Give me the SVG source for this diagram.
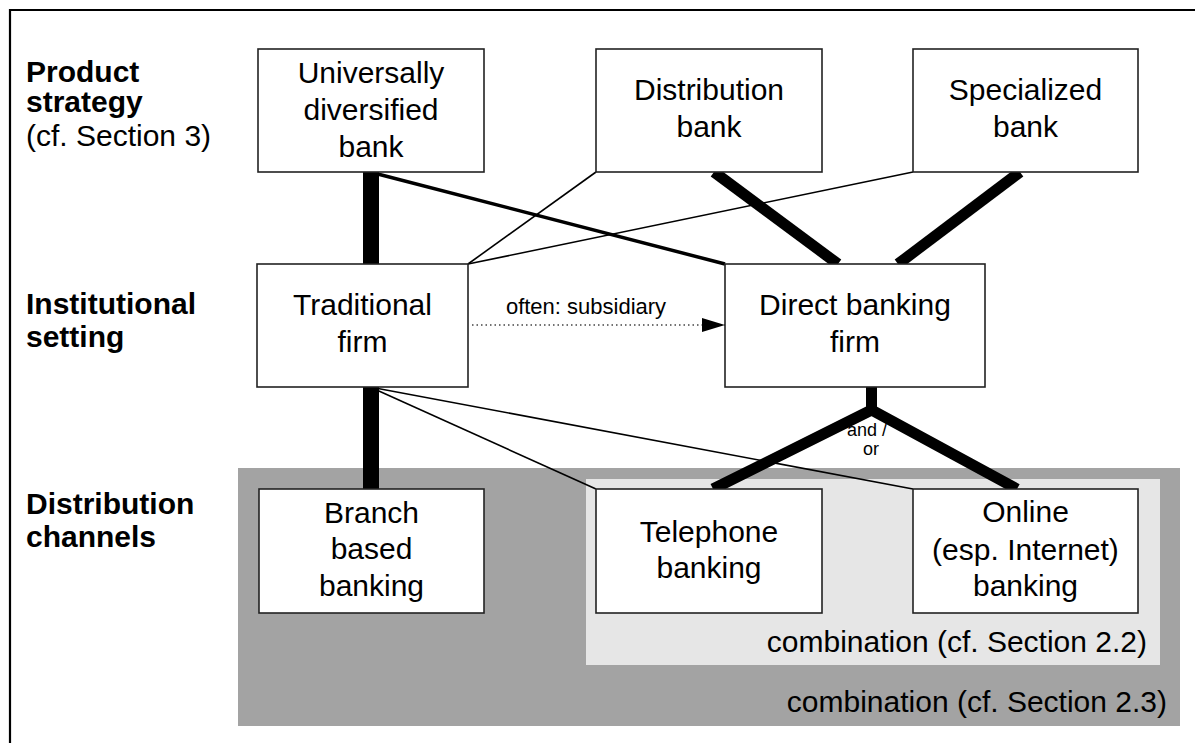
<svg xmlns="http://www.w3.org/2000/svg" width="1195" height="743" viewBox="0 0 1195 743">
<defs>
<style>
.box{fill:#fff;stroke:#222;stroke-width:1.6}
.t{font-family:"Liberation Sans",Arial,sans-serif;font-size:30px;fill:#000;text-anchor:middle}
.lbl{font-family:"Liberation Sans",Arial,sans-serif;font-size:30px;fill:#000}
.b{font-weight:bold}
.thick{stroke:#000;stroke-width:16;fill:none}
.diag{stroke:#000;stroke-width:11;fill:none;stroke-linejoin:miter}
.med{stroke:#000;stroke-width:3.5;fill:none}
.thin{stroke:#000;stroke-width:1.6;fill:none}
.small{font-family:"Liberation Sans",Arial,sans-serif;fill:#000;text-anchor:middle}
</style>
<marker id="arr" markerWidth="24" markerHeight="16" refX="23" refY="7" orient="auto" markerUnits="userSpaceOnUse">
<path d="M0,0 L23,7 L0,14 Z" fill="#000"/>
</marker>
</defs>
<rect x="0" y="0" width="1195" height="743" fill="#fff"/>
<path d="M10,743 L10,10 L1195,10" fill="none" stroke="#000" stroke-width="2.2"/>

<g id="bg">
<rect x="238" y="468" width="942" height="258" fill="#a3a3a3"/>
<rect x="586" y="479" width="574" height="186" fill="#e6e6e6"/>
<text class="lbl" x="1167" y="712" text-anchor="end">combination (cf. Section 2.3)</text>
<text class="lbl" x="1147" y="652" text-anchor="end">combination (cf. Section 2.2)</text>
</g>

<g id="row-labels">
<text class="lbl b" x="26" y="82">Product</text>
<text class="lbl b" x="26" y="112">strategy</text>
<text class="lbl" x="26" y="146">(cf. Section 3)</text>
<text class="lbl b" x="26" y="314">Institutional</text>
<text class="lbl b" x="26" y="347">setting</text>
<text class="lbl b" x="26" y="514">Distribution</text>
<text class="lbl b" x="26" y="547">channels</text>
</g>

<g id="connectors">
<line class="thick" x1="371" y1="172" x2="371" y2="264"/>
<line class="med" x1="370" y1="172" x2="725" y2="264"/>
<line class="thin" x1="596" y1="172" x2="468" y2="264"/>
<line class="thin" x1="913" y1="172" x2="468" y2="264"/>
<line class="diag" x1="714" y1="172" x2="838" y2="264"/>
<line class="diag" x1="1020" y1="172" x2="898" y2="264"/>
<line class="thick" x1="371" y1="387" x2="371" y2="489"/>
<line class="thin" x1="370" y1="387" x2="596" y2="489"/>
<line class="thin" x1="370" y1="387" x2="913" y2="489"/>
<line x1="871.5" y1="387" x2="871.5" y2="412" stroke="#000" stroke-width="11"/>
<path class="diag" d="M713,489 L871.5,410 L1017,489"/>
<line x1="472" y1="325" x2="725" y2="325" stroke="#444" stroke-width="1.3" stroke-dasharray="1.5,3" marker-end="url(#arr)"/>
<text class="small" x="586" y="314" font-size="22">often: subsidiary</text>
<text class="small" x="867" y="436" font-size="18">and /</text>
<text class="small" x="871" y="455" font-size="18">or</text>
</g>

<g id="n-universal">
<rect class="box" x="258" y="49" width="226" height="123"/>
<text class="t" x="371" y="83">Universally</text>
<text class="t" x="371" y="120">diversified</text>
<text class="t" x="371" y="157">bank</text>
</g>
<g id="n-distribution">
<rect class="box" x="596" y="49" width="226" height="123"/>
<text class="t" x="709" y="100">Distribution</text>
<text class="t" x="709" y="137">bank</text>
</g>
<g id="n-specialized">
<rect class="box" x="913" y="49" width="225" height="123"/>
<text class="t" x="1025.5" y="100">Specialized</text>
<text class="t" x="1025.5" y="137">bank</text>
</g>
<g id="n-traditional">
<rect class="box" x="257" y="264" width="211" height="123"/>
<text class="t" x="362.5" y="315">Traditional</text>
<text class="t" x="362.5" y="352">firm</text>
</g>
<g id="n-direct">
<rect class="box" x="725" y="264" width="260" height="123"/>
<text class="t" x="855" y="315">Direct banking</text>
<text class="t" x="855" y="352">firm</text>
</g>
<g id="n-branch">
<rect class="box" x="259" y="489" width="225" height="124"/>
<text class="t" x="371.5" y="523">Branch</text>
<text class="t" x="371.5" y="559">based</text>
<text class="t" x="371.5" y="596">banking</text>
</g>
<g id="n-telephone">
<rect class="box" x="596" y="489" width="226" height="124"/>
<text class="t" x="709" y="542">Telephone</text>
<text class="t" x="709" y="578">banking</text>
</g>
<g id="n-online">
<rect class="box" x="913" y="489" width="225" height="124"/>
<text class="t" x="1025.5" y="522">Online</text>
<text class="t" x="1025.5" y="560">(esp. Internet)</text>
<text class="t" x="1025.5" y="596">banking</text>
</g>
</svg>
